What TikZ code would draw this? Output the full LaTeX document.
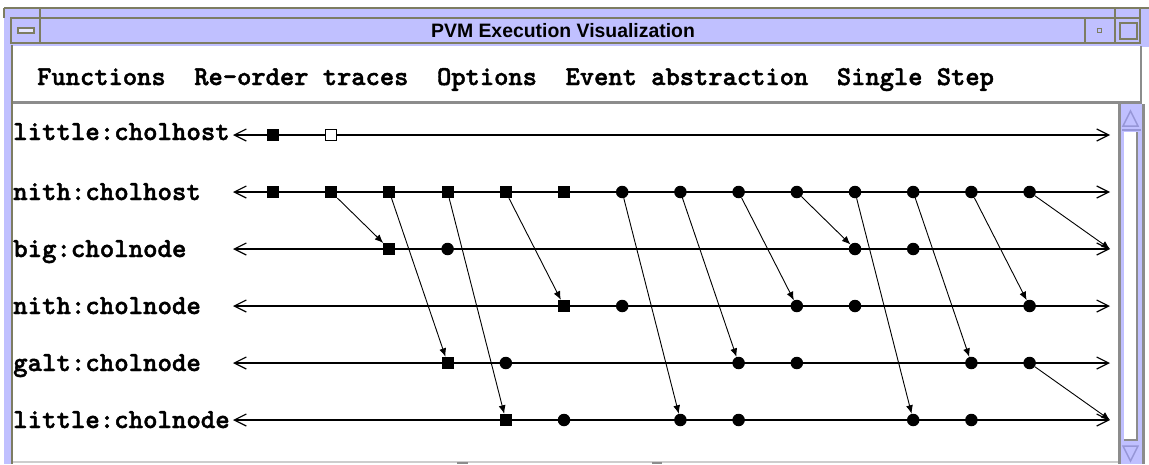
\documentclass[tikz,border=0pt]{standalone}
\usepackage{fontspec}
\usetikzlibrary{arrows.meta}
\newfontfamily\tracefont{lmmonolt10-bold}[Extension=.otf,FakeBold=1.6]
\newfontfamily\titlefont{Liberation Sans}
\definecolor{lav}{RGB}{192,192,255}
\definecolor{lavdark}{RGB}{150,150,215}
\definecolor{olive}{RGB}{125,125,98}
\definecolor{bevel}{RGB}{140,140,140}
\definecolor{edgegray}{RGB}{205,205,205}
\begin{document}
\begin{tikzpicture}[x=1pt,y=-1pt,
  tracelabel/.style={font=\tracefont\fontsize{27.5}{27.5}\selectfont,
    inner sep=0pt, anchor=base west},
  menutext/.style={font=\tracefont\fontsize{27.2}{27.2}\selectfont,
    inner sep=0pt, anchor=base west},
  axis/.style={line width=1.4pt, black,
    {Straight Barb[length=12pt,width=12pt,line width=1.2pt]}-{Straight Barb[length=12pt,width=12pt,line width=1.2pt]}},
  sq/.style={rectangle, fill=black, minimum size=12pt, inner sep=0pt},
  opensq/.style={rectangle, draw=black, fill=white, line width=0.9pt, minimum size=11pt, inner sep=0pt},
  circ/.style={circle, fill=black, minimum size=12.5pt, inner sep=0pt},
  msg/.style={line width=0.9pt, black, -{Latex[length=8.5pt,width=7pt]}},
  olv/.style={draw=olive, line width=2pt},
]
\useasboundingbox (0,0) rectangle (1149,464);
\fill[white] (0,0) rectangle (1149,464);

% ---- window frame and title bar ----
\fill[lav] (4,8) rectangle (1149,47);
\fill[lav] (4,8) rectangle (11,464);
\draw[olv] (4,8) -- (1149,8);
\draw[olv] (4,8) -- (4,18);
\draw[olv] (11,18) rectangle (1140,43);
\draw[olv] (40,8) -- (40,43);
\draw[olv] (1085,18) -- (1085,43);
\draw[olv] (1115,8) -- (1115,43);
\draw[olv] (1140,8) -- (1140,18);
% title bar buttons
\draw[olive, line width=1.2pt, fill=lav!40] (18,28) rectangle (34,33);
\draw[olive, line width=1pt] (1097,28) rectangle (1101,32);
\draw[olive, line width=1.5pt] (1120,23) rectangle (1137,39);
\node[font=\titlefont\bfseries\fontsize{19.4}{19.4}\selectfont, inner sep=0pt,
  anchor=base] (title) at (563,37) {PVM Execution Visualization};

% ---- menu bar ----
\fill[white] (13,46) rectangle (1140,101);
\draw[bevel, line width=2.5pt] (13,102.5) -- (1141.5,102.5);
\draw[bevel, line width=2.5pt] (1141,46) -- (1141,104);
\node[menutext] (menu) at (37,85)
  {Functions\ \ Re-order traces\ \ Options\ \ Event abstraction\ \ Single Step};

% ---- trace canvas ----
\fill[white] (13,104) rectangle (1118,461);
\draw[olive, line width=2.5pt] (12,45) -- (12,464);
\draw[edgegray, line width=1.5pt] (13,462) -- (1118,462);
\fill[bevel] (457,461.5) rectangle (468,464);
\fill[bevel] (652,461.5) rectangle (662,464);

% ---- scrollbar ----
\fill[lav] (1118,104) rectangle (1145,464);
\draw[bevel, line width=3pt] (1119.5,104) -- (1119.5,464);
\draw[bevel, line width=2.5pt] (1143.5,104) -- (1143.5,464);
\draw[lavdark, line width=1.5pt] (1123,126) -- (1130.5,111) -- (1138,126) -- cycle;
\draw[lavdark, line width=1.2pt] (1122,130) -- (1141,130);
\fill[white] (1124,132) rectangle (1137,439);
\draw[bevel, line width=2pt] (1137,132) -- (1137,440) -- (1124,440);
\draw[lavdark, line width=1.5pt] (1123,446) -- (1138,446) -- (1130.5,461) -- cycle;

% ---- process labels ----
\node[tracelabel] (lab1) at (13,140) {little:cholhost};
\node[tracelabel] (lab2) at (13,200) {nith:cholhost};
\node[tracelabel] (lab3) at (13,257) {big:cholnode};
\node[tracelabel] (lab4) at (13,314) {nith:cholnode};
\node[tracelabel] (lab5) at (13,371) {galt:cholnode};
\node[tracelabel] (lab6) at (13,428) {little:cholnode};

% ---- time axes ----
\foreach \r in {1,...,6}{
  \pgfmathsetmacro{\ry}{135+57*(\r-1)}
  \coordinate (L\r) at (233,\ry);
  \coordinate (R\r) at (1110,\ry);
  \draw[axis] (L\r) -- (R\r);
}

% ---- events: row/column/kind ----
\foreach \r/\c/\k in {
  1/1/sq, 1/2/opensq,
  2/1/sq, 2/2/sq, 2/3/sq, 2/4/sq, 2/5/sq, 2/6/sq,
  2/7/circ, 2/8/circ, 2/9/circ, 2/10/circ, 2/11/circ, 2/12/circ, 2/13/circ, 2/14/circ,
  3/3/sq, 3/4/circ, 3/11/circ, 3/12/circ,
  4/6/sq, 4/7/circ, 4/10/circ, 4/11/circ, 4/14/circ,
  5/4/sq, 5/5/circ, 5/9/circ, 5/10/circ, 5/13/circ, 5/14/circ,
  6/5/sq, 6/6/circ, 6/8/circ, 6/9/circ, 6/12/circ, 6/13/circ}{
  \pgfmathsetmacro{\ex}{273+58.2*(\c-1)}
  \pgfmathsetmacro{\ey}{135+57*(\r-1)}
  \node[\k] (e\r-\c) at (\ex,\ey) {};
}

% ---- messages ----
\draw[msg] (e2-2) -- (e3-3);
\draw[msg] (e2-3) -- (e5-4);
\draw[msg] (e2-4) -- (e6-5);
\draw[msg] (e2-5) -- (e4-6);
\draw[msg] (e2-7) -- (e6-8);
\draw[msg] (e2-8) -- (e5-9);
\draw[msg] (e2-9) -- (e4-10);
\draw[msg] (e2-10) -- (e3-11);
\draw[msg] (e2-11) -- (e6-12);
\draw[msg] (e2-12) -- (e5-13);
\draw[msg] (e2-13) -- (e4-14);
\draw[msg] (e2-14) -- (R3);
\draw[msg] (e5-14) -- (R6);
\end{tikzpicture}
\end{document}
